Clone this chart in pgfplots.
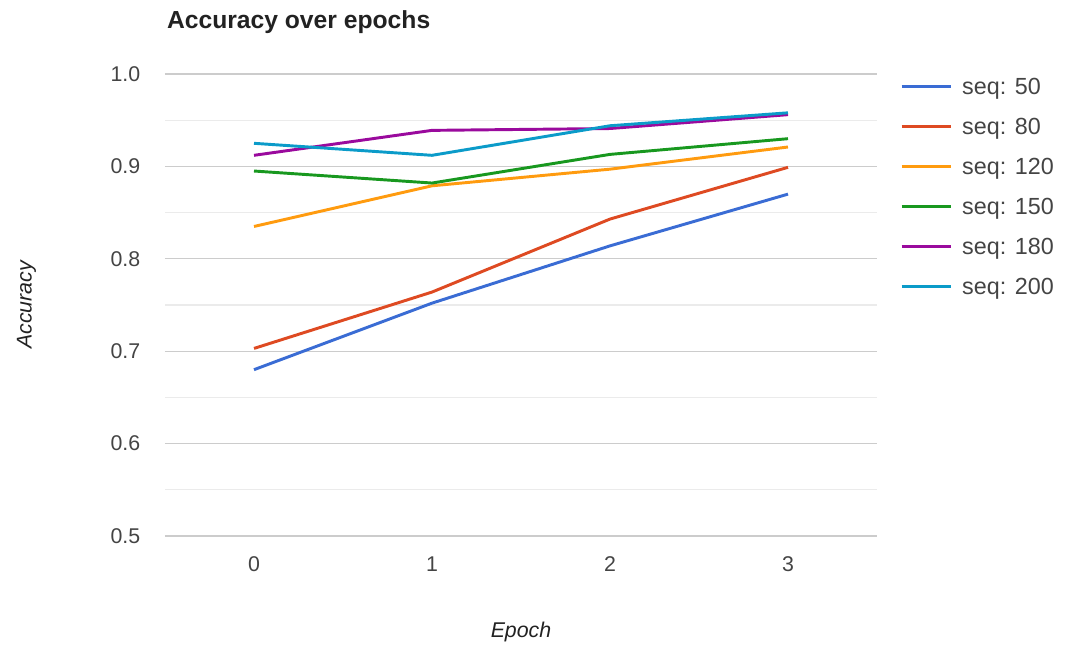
\documentclass[border=0pt]{standalone}
\usepackage{pgfplots}
\pgfplotsset{compat=1.18}
\usepackage{fontspec}
\setmainfont{Liberation Sans}

\definecolor{cBlue}{HTML}{3A6CD4}
\definecolor{cRed}{HTML}{DE4A22}
\definecolor{cOrange}{HTML}{FF9B0F}
\definecolor{cGreen}{HTML}{18981F}
\definecolor{cPurple}{HTML}{9A0A9D}
\definecolor{cCyan}{HTML}{0B9BC9}
\definecolor{tickgray}{HTML}{444444}
\definecolor{titlegray}{HTML}{222222}
\definecolor{majorgrid}{HTML}{CCCCCC}
\definecolor{minorgrid}{HTML}{EBEBEB}

\begin{document}
\begin{tikzpicture}
% page frame: 1px = 0.75pt, plot area lower-left at the origin
\useasboundingbox (-123.75pt,-81pt) rectangle (675pt,402pt);
\begin{axis}[
  at={(0pt,0pt)}, anchor=south west,
  scale only axis,
  width=534pt, height=346.5pt,
  clip=false,
  xmin=-0.5, xmax=3.5,
  ymin=0.5, ymax=1.0,
  xtick={0,1,2,3},
  ytick={0.5,0.6,0.7,0.8,0.9,1.0},
  minor y tick num=1,
  yticklabel style={/pgf/number format/fixed, /pgf/number format/fixed zerofill, /pgf/number format/precision=1},
  /pgf/number format/assume math mode=true,
  ymajorgrids, yminorgrids,
  major grid style={majorgrid, line width=0.8pt},
  minor grid style={minorgrid, line width=0.8pt},
  axis line style={draw=none},
  major tick length=0pt, minor tick length=0pt,
  tick label style={font=\fontsize{16}{19}\selectfont, text=tickgray},
  xticklabel style={yshift=-12pt},
  yticklabel style={xshift=-15pt},
  every axis plot/.append style={line width=2.2pt, no markers},
  legend image code/.code={\draw[#1] (0pt,1.5pt) -- (36.75pt,1.5pt);},
  legend cell align=left,
  legend style={
    draw=none, fill=none,
    at={(1.0267,0.999)}, anchor=north west,
    font=\fontsize{17.5}{20}\selectfont, text=tickgray,
    nodes={inner sep=0pt, text height=12.5pt, text depth=3.5pt},
    row sep=14pt,
    /tikz/every odd column/.append style={column sep=7.5pt},
  },
]
\addplot[cBlue] coordinates {(0,0.680) (1,0.752) (2,0.814) (3,0.870)};
\addlegendentry{seq: 50}
\addplot[cRed] coordinates {(0,0.703) (1,0.764) (2,0.843) (3,0.899)};
\addlegendentry{seq: 80}
\addplot[cOrange] coordinates {(0,0.835) (1,0.879) (2,0.897) (3,0.921)};
\addlegendentry{seq: 120}
\addplot[cGreen] coordinates {(0,0.895) (1,0.882) (2,0.913) (3,0.930)};
\addlegendentry{seq: 150}
\addplot[cPurple] coordinates {(0,0.912) (1,0.939) (2,0.941) (3,0.956)};
\addlegendentry{seq: 180}
\addplot[cCyan] coordinates {(0,0.925) (1,0.912) (2,0.944) (3,0.958)};
\addlegendentry{seq: 200}

% chart title and axis titles
\node[anchor=base west, font=\fontsize{18.5}{22}\selectfont\bfseries, text=titlegray]
  at ([xshift=-2pt, yshift=34pt]rel axis cs:0,1) {Accuracy over epochs};
\node[anchor=base, font=\fontsize{16}{19}\selectfont\itshape, text=titlegray]
  at ([yshift=-76pt]rel axis cs:0.5,0) {Epoch};
\node[anchor=base, rotate=90, font=\fontsize{16}{19}\selectfont\itshape, text=titlegray]
  at ([xshift=-100pt]rel axis cs:0,0.5) {Accuracy};
\end{axis}
\end{tikzpicture}
\end{document}
